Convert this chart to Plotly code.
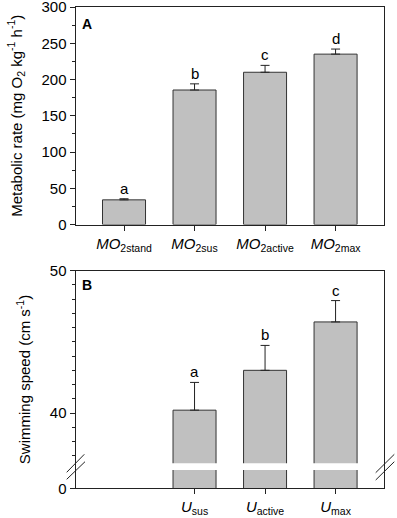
import plotly.graph_objects as go

W, H = 397, 518

# ---- data ----
mo2_labels = ['<i>MO</i><sub>2stand</sub>', '<i>MO</i><sub>2sus</sub>',
              '<i>MO</i><sub>2active</sub>', '<i>MO</i><sub>2max</sub>']
mo2_values = [34, 185.5, 210, 235]
mo2_errors = [1.5, 8.5, 9.5, 7]
mo2_letters = ['a', 'b', 'c', 'd']

u_labels = ['<i>U</i><sub>sus</sub>', '<i>U</i><sub>active</sub>', '<i>U</i><sub>max</sub>']
u_values = [40.2, 43.0, 46.4]
u_errors = [1.95, 1.75, 1.5]
u_letters = ['a', 'b', 'c']

mo2_ticks = [0, 50, 100, 150, 200, 250, 300]
u_tick_vals = [40, 50]

# ---- positions / style ----
mo2_x = [0, 1, 2, 3]
u_x = [1, 2, 3]
FONT = 'Arial, Liberation Sans, sans-serif'
LINE = '#222222'
BAR = '#c0c0c0'
BREAK_LOW = 34.71       # bottom of broken axis (labelled 0)
BAND = (36.0, 36.47)    # white break band through bars

def px(x):
    return x / W

def py(y):
    return 1 - y / H

fig = go.Figure()

fig.add_trace(go.Bar(
    x=mo2_x, y=mo2_values, width=0.61,
    marker=dict(color=BAR, line=dict(color='#333333', width=1)),
    error_y=dict(type='data', array=mo2_errors, arrayminus=[0] * len(mo2_errors),
                 symmetric=False, color=LINE, thickness=1, width=4.5),
    xaxis='x', yaxis='y'))

fig.add_trace(go.Bar(
    x=u_x, y=u_values, width=0.61,
    marker=dict(color=BAR, line=dict(color='#333333', width=1)),
    error_y=dict(type='data', array=u_errors, arrayminus=[0] * len(u_errors),
                 symmetric=False, color=LINE, thickness=1, width=4.5),
    xaxis='x2', yaxis='y2'))

axis_common = dict(showline=True, mirror=True, linecolor=LINE, linewidth=1,
                   ticks='outside', ticklen=5, tickcolor=LINE, tickwidth=1,
                   showgrid=False, zeroline=False, automargin=False,
                   ticklabeloverflow='allow',
                   tickfont=dict(family=FONT, size=15, color='black'))

xr = [-0.688, 3.691]
fig.update_layout(
    width=W, height=H, margin=dict(l=0, r=0, t=0, b=0),
    paper_bgcolor='white', plot_bgcolor='white', showlegend=False,
    font=dict(family=FONT, color='black'),
    xaxis=dict(domain=[px(75.5), px(384.3)], range=xr, anchor='y',
               tickmode='array', tickvals=mo2_x, ticktext=mo2_labels, **axis_common),
    yaxis=dict(domain=[py(224.5), py(7)], range=[0, 300], anchor='x',
               tickmode='array', tickvals=mo2_ticks,
               minor=dict(dtick=25, ticks='outside', ticklen=3, tickcolor=LINE),
               title=dict(text='Metabolic rate (mg O<sub>2</sub> kg<sup>-1</sup> h<sup>-1</sup>)',
                          font=dict(family=FONT, size=15)),
               **axis_common),
    xaxis2=dict(domain=[px(75.5), px(384.3)], range=xr, anchor='y2',
                tickmode='array', tickvals=u_x, ticktext=u_labels, **axis_common),
    yaxis2=dict(domain=[py(488.3), py(270.7)], range=[BREAK_LOW, 50], anchor='x2',
                tickmode='array', tickvals=[BREAK_LOW] + u_tick_vals,
                ticktext=['0'] + [str(v) for v in u_tick_vals],
                minor=dict(tickmode='array', tickvals=[37, 38, 39, 41, 42, 43, 44, 45, 46, 47, 48, 49],
                           ticks='outside', ticklen=3, tickcolor=LINE),
                title=dict(text='Swimming speed (cm s<sup>-1</sup>)',
                           font=dict(family=FONT, size=15)),
                **axis_common),
)

# significance letters
for x, v, e, t in zip(mo2_x, mo2_values, mo2_errors, mo2_letters):
    fig.add_annotation(x=x, y=v + e, xref='x', yref='y', text=t, showarrow=False,
                       yanchor='bottom', yshift=0, font=dict(family=FONT, size=15))
for x, v, e, t in zip(u_x, u_values, u_errors, u_letters):
    fig.add_annotation(x=x, y=v + e, xref='x2', yref='y2', text=t, showarrow=False,
                       yanchor='bottom', yshift=0, font=dict(family=FONT, size=15))

# panel letters
fig.add_annotation(x=px(80), y=py(14), xref='paper', yref='paper', text='<b>A</b>',
                   showarrow=False, xanchor='left', yanchor='top',
                   font=dict(family=FONT, size=14))
fig.add_annotation(x=px(80), y=py(275), xref='paper', yref='paper', text='<b>B</b>',
                   showarrow=False, xanchor='left', yanchor='top',
                   font=dict(family=FONT, size=14))

# axis break: white band through bars
fig.add_shape(type='rect', xref='x2', yref='y2', x0=0.4, x1=3.45, y0=BAND[0], y1=BAND[1],
              fillcolor='white', line=dict(width=0), layer='above')

# break marks on left and right axes
for (x0, y0, x1, y1) in [(66.7, 472.3, 84.3, 454.3), (66.7, 479.3, 85.0, 461.7),
                         (375.7, 472.7, 394.3, 454.3), (375.7, 480.0, 394.3, 461.7)]:
    fig.add_shape(type='line', xref='paper', yref='paper',
                  x0=px(x0), y0=py(y0), x1=px(x1), y1=py(y1),
                  line=dict(color=LINE, width=1))

fig.write_html('out.html', config={'displayModeBar': False},
               post_script="document.body.style.margin='0';document.body.style.overflow='hidden';")
